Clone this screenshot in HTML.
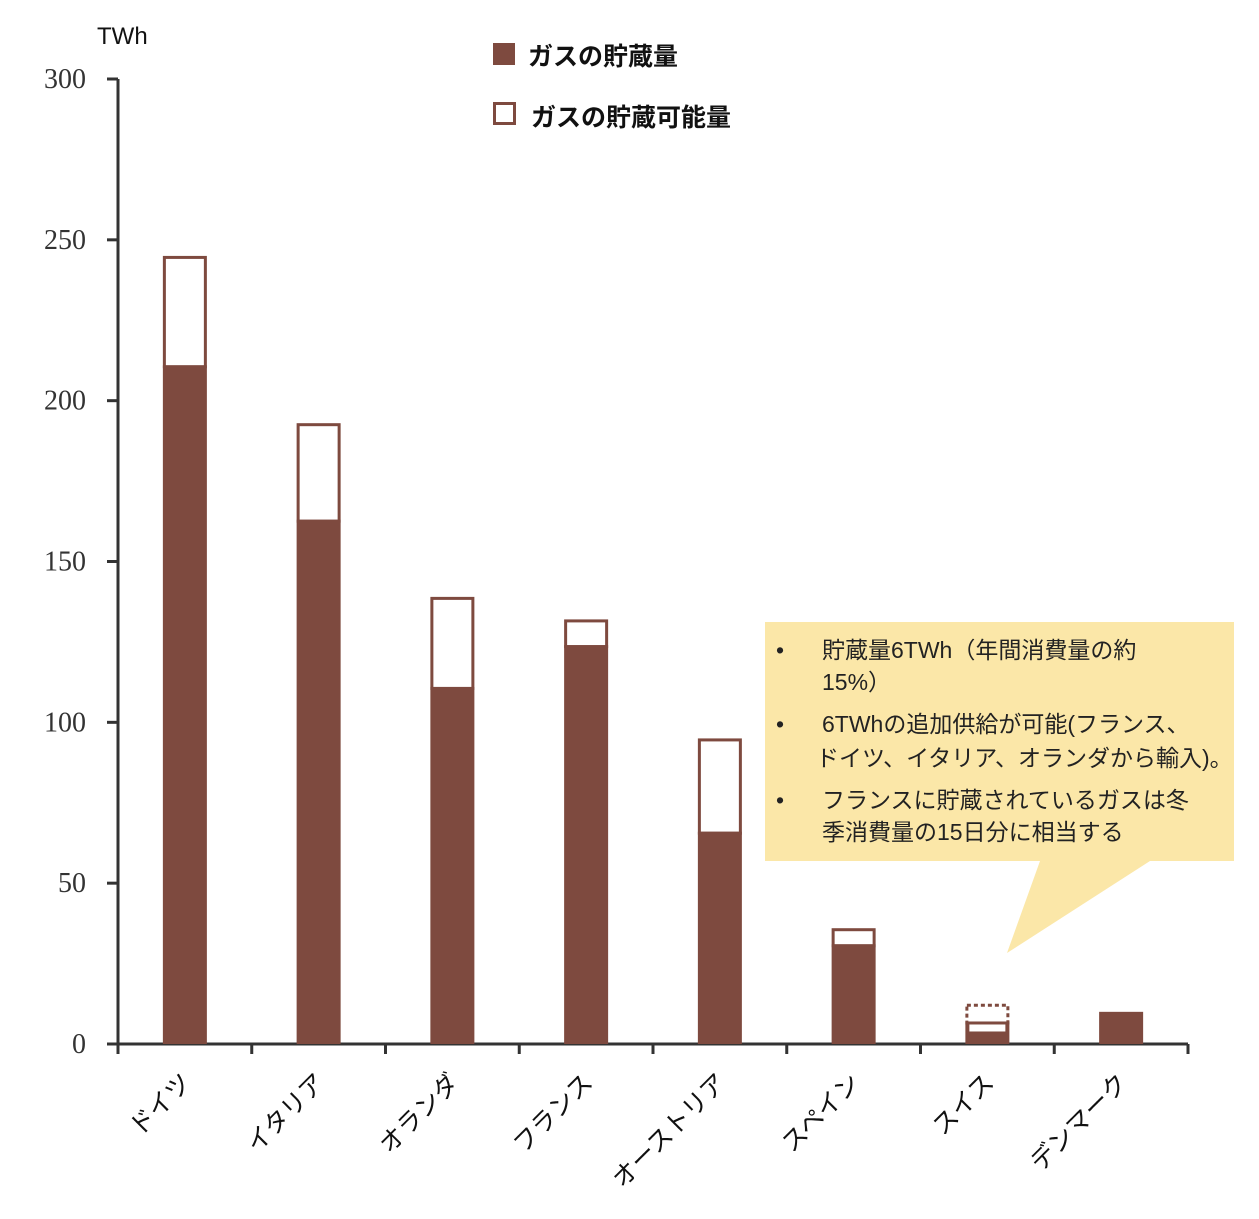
<!DOCTYPE html>
<html><head><meta charset="utf-8"><style>
body{margin:0;background:#fff;}
svg text{font-family:"Liberation Sans","Noto Sans CJK JP",sans-serif;}
</style></head><body>
<svg width="1259" height="1214">
<g id="axes"></g><g id="bars"></g><g id="labels"></g>
<text x="97" y="44" font-size="24" fill="#111">TWh</text>
<g>
<rect x="493" y="43" width="22" height="22" fill="#7e4a3f"/>
<text x="528" y="65" font-size="25" font-weight="bold" fill="#111">ガスの貯蔵量</text>
<rect x="494.5" y="103.5" width="20" height="20" fill="#fff" stroke="#7e4a3f" stroke-width="3"/>
<text x="531" y="126" font-size="25" font-weight="bold" fill="#111">ガスの貯蔵可能量</text>
</g>
<g>
<polygon points="765,622 1234,622 1234,861 1150,861 1007,953 1040,861 765,861" fill="#fbe7a8"/>
<g font-size="23" fill="#222">
<text x="776" y="658">•</text><text x="822" y="658">貯蔵量6TWh（年間消費量の約</text>
<text x="822" y="690">15%）</text>
<text x="776" y="732">•</text><text x="822" y="732">6TWhの追加供給が可能(フランス、</text>
<text x="816" y="766">ドイツ、イタリア、オランダから輸入)。</text>
<text x="776" y="808">•</text><text x="822" y="808">フランスに貯蔵されているガスは冬</text>
<text x="822" y="840">季消費量の15日分に相当する</text>
</g></g>
</svg>
<script>
const categories=["ドイツ","イタリア","オランダ","フランス","オーストリア","スペイン","スイス","デンマーク"];
const stored=[211,163,111,124,66,31,7,10];
const capacity=[245,193,139,132,95,36,12.5,0];
const yTicks=[0,50,100,150,200,250,300];
const NS="http://www.w3.org/2000/svg";
const x0=118,x1=1188,yBase=1044,yTop=79,yMax=300;
const band=(x1-x0)/categories.length, bw=44;
const y=v=>yBase-(v/yMax)*(yBase-yTop);
const xc=i=>x0+band*(i+0.5);
function mk(t,a,p){const e=document.createElementNS(NS,t);for(const k in a)e.setAttribute(k,a[k]);p.appendChild(e);return e;}
const ax=document.getElementById('axes'),bs=document.getElementById('bars'),lb=document.getElementById('labels');
let e=mk('line',{x1:x0,y1:yTop,x2:x0,y2:yBase,stroke:'#333','stroke-width':3},ax);


e=mk('line',{x1:x0-2,y1:yBase,x2:x1,y2:yBase,stroke:'#333','stroke-width':3},ax);


yTicks.forEach(v=>{
 mk('line',{x1:x0-11,y1:y(v),x2:x0,y2:y(v),stroke:'#333','stroke-width':3},ax);
 const t=mk('text',{x:x0-32,y:y(v)+9,'text-anchor':'end','font-size':28,fill:'#333',style:'font-family:"Liberation Serif",serif'},ax);
 t.textContent=v;
 
 
});
for(let i=0;i<=categories.length;i++)mk('line',{x1:x0+band*i,y1:yBase,x2:x0+band*i,y2:yBase+10,stroke:'#333','stroke-width':3},ax);
categories.forEach((c,i)=>{
 const cx=xc(i),l=cx-bw/2;
 if(capacity[i]>stored[i]){
  const r=mk('rect',{x:l+1.5,y:y(capacity[i])+1.5,width:bw-3,height:y(stored[i])-y(capacity[i]),fill:'#fff',stroke:'#7e4a3f','stroke-width':3},bs);
  if(i===6)r.setAttribute('stroke-dasharray','4 3');
  
  
 }
 const s=mk('rect',{x:l,y:y(stored[i]),width:bw,height:yBase-y(stored[i]),fill:'#7e4a3f'},bs);
 
 
 if(i===6){mk('rect',{x:l+4,y:y(stored[i])+3,width:bw-8,height:7,fill:'#fff'},bs);}
 const t=mk('text',{x:cx+8,y:yBase+40,'text-anchor':'end','font-size':25,fill:'#111',transform:`rotate(-45 ${cx+8} ${yBase+40})`},lb);
 t.textContent=c;
 
 
});
</script>
</body></html>
